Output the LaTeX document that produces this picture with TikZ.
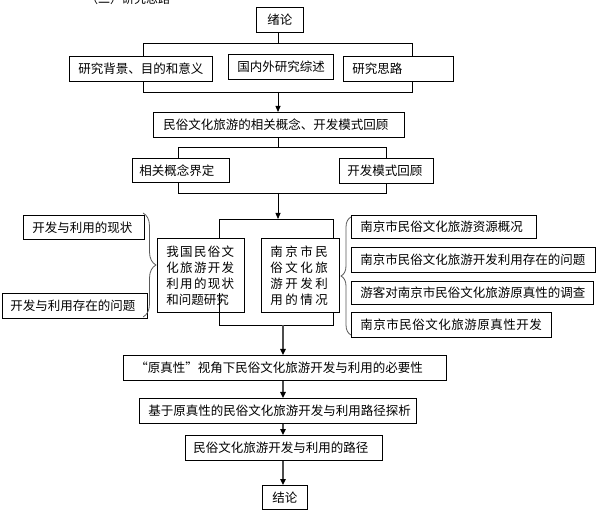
\documentclass[tikz,border=0pt]{standalone}
\usepackage{fontspec}
\setmainfont{Noto Sans CJK SC}
\usetikzlibrary{arrows.meta,decorations.pathreplacing}
\newcommand\spacedtext[2]{\def\spgap{#1}\spacedaux#2\relax}
\def\spacedaux#1{\ifx\relax#1\else#1\kern\spgap\relax\expandafter\spacedaux\fi}
\tikzset{
  box/.style={draw=black, line width=0.8pt, anchor=north west, inner ysep=0pt, inner xsep=9pt,
    align=left, font=\fontsize{12.5pt}{16pt}\selectfont},
  cbox/.style={draw=black, line width=0.8pt, anchor=north west, inner sep=0pt,
    align=center, font=\fontsize{12.5pt}{16pt}\selectfont},
  ln/.style={draw=black, line width=0.8pt},
  arr/.style={draw=black, line width=0.8pt, -{Triangle[length=6pt,width=5pt]}},
  arrg/.style={draw=black!70, line width=1.3pt, -{Triangle[length=6pt,width=5.5pt,fill=black,color=black]}},
  brc/.style={draw=black!65, line width=0.8pt, decorate},
}
\begin{document}
\begin{tikzpicture}[x=1pt,y=-1pt]
\useasboundingbox (0,0) rectangle (597,510);
% header (cut off at top, as in the reference)
\node[anchor=south west, inner sep=0pt, font=\fontsize{12pt}{14pt}\selectfont] (hdr) at (86,5) {（二）研究思路};

\node[cbox, minimum width=47pt, minimum height=25pt] (xulun1) at (256,7) {绪论};
\node[box, text width=125pt, minimum height=25pt] (bg) at (69,56) {\mbox{研究背景、目的和意义}};
\node[box, text width=87pt, minimum height=25pt] (gn) at (228,54) {\mbox{国内外研究综述}};
\node[box, text width=92pt, minimum height=25pt] (sl) at (343,56) {研究思路};
\node[box, inner xsep=10pt, text width=231pt, minimum height=25pt] (gn2) at (153,112) {\mbox{民俗文化旅游的相关概念、开发模式回顾}};
\node[box, inner xsep=7pt, text width=83pt, minimum height=24pt] (xg) at (132,158) {\mbox{相关概念界定}};
\node[box, inner xsep=8pt, text width=78pt, minimum height=25pt] (kf) at (339,158) {\mbox{开发模式回顾}};

\node[box, text width=69pt, minimum height=74pt] (wg) at (157,238)
  {\mbox{\spacedtext{1.3pt}{我国民俗文}}\\\mbox{\spacedtext{1.3pt}{化旅游开发}}\\\mbox{\spacedtext{1.3pt}{利用的现状}}\\\mbox{和问题研究}};
\node[box, text width=60pt, minimum height=74pt] (nj) at (261,238)
  {\mbox{\spacedtext{2.5pt}{南京市民}}\\\mbox{\spacedtext{2.5pt}{俗文化旅}}\\\mbox{\spacedtext{2.5pt}{游开发利}}\\\mbox{\spacedtext{2.5pt}{用的情况}}};

\node[box, text width=103pt, minimum height=24pt] (L1) at (23,215) {\mbox{开发与利用的现状}};
\node[box, inner xsep=8pt, text width=129pt, minimum height=25pt] (L2) at (2,293) {\mbox{开发与利用存在的问题}};

\node[box, text width=167pt, minimum height=23pt] (R1) at (351,215) {\mbox{南京市民俗文化旅游资源概况}};
\node[box, text width=226pt, minimum height=25pt] (R2) at (351,247) {\mbox{南京市民俗文化旅游开发利用存在的问题}};
\node[box, text width=224pt, minimum height=23pt] (R3) at (351,281) {\mbox{游客对南京市民俗文化旅游原真性的调查}};
\node[box, text width=182pt, minimum height=25pt] (R4) at (351,312) {\mbox{\spacedtext{0.5pt}{南京市民俗文化旅游原真性开发}}};

\node[box, inner xsep=12pt, text width=299pt, minimum height=25pt] (yz) at (123,355) {\mbox{“原真性”视角下民俗文化旅游开发与利用的必要性}};
\node[box, text width=259pt, minimum height=25pt] (jy) at (139,398) {\mbox{基于原真性的民俗文化旅游开发与利用路径探析}};
\node[box, inner xsep=8pt, text width=181pt, minimum height=25pt] (lj) at (185,435) {\mbox{民俗文化旅游开发与利用的路径}};
\node[cbox, minimum width=45pt, minimum height=24pt] (xulun2) at (262,485) {结论};

% junction coordinates
\coordinate (b1) at (278,43);
\coordinate (b2) at (278,92);
\coordinate (b3) at (278,147);
\coordinate (b4) at (278,193);
\coordinate (b5) at (278,219);
\coordinate (b6s) at (219,293);
\coordinate (b6) at (283,325);
\coordinate (brL1) at (143,213);
\coordinate (brL2) at (143,317);
\coordinate (brR1) at (351,335);
\coordinate (brR2) at (351,217);

% top group
\draw[ln] (xulun1.south -| b1) -- (b1);
\draw[ln] (bg.north -| 143,0) |- (412,43) -- (sl.north -| 412,0);
\draw[ln] (bg.south -| 143,0) |- (412,92) -- (sl.south -| 412,0);
\draw[arr] (b2) -- (gn2.north -| b2);
% second group
\draw[ln] (gn2.south -| b3) -- (b3);
\draw[ln] (xg.north -| 178,0) |- (386,147) -- (kf.north -| 386,0);
\draw[ln] (xg.south -| 178,0) |- (386,193) -- (kf.south -| 386,0);
\draw[arr] (b4) -- (b5);
% third group
\draw[ln] (wg.north -| 219,0) |- (333,219) -- (nj.north -| 333,0);
\draw[ln] (b6s) |- (333,325) -- (nj.south -| 333,0);
% braces
\draw[brc, decoration={brace, amplitude=13pt}] (brL1) -- (brL2);
\draw[brc, decoration={brace, amplitude=10pt}] (brR1) -- (brR2);
% lower chain
\draw[arrg] (b6) -- (yz.north -| b6);
\draw[arrg] (yz.south -| b6) -- (jy.north -| b6);
\draw[arrg] (jy.south -| b6) -- (lj.north -| b6);
\draw[arrg] (lj.south -| b6) -- (xulun2.north -| b6);
\end{tikzpicture}
\end{document}
